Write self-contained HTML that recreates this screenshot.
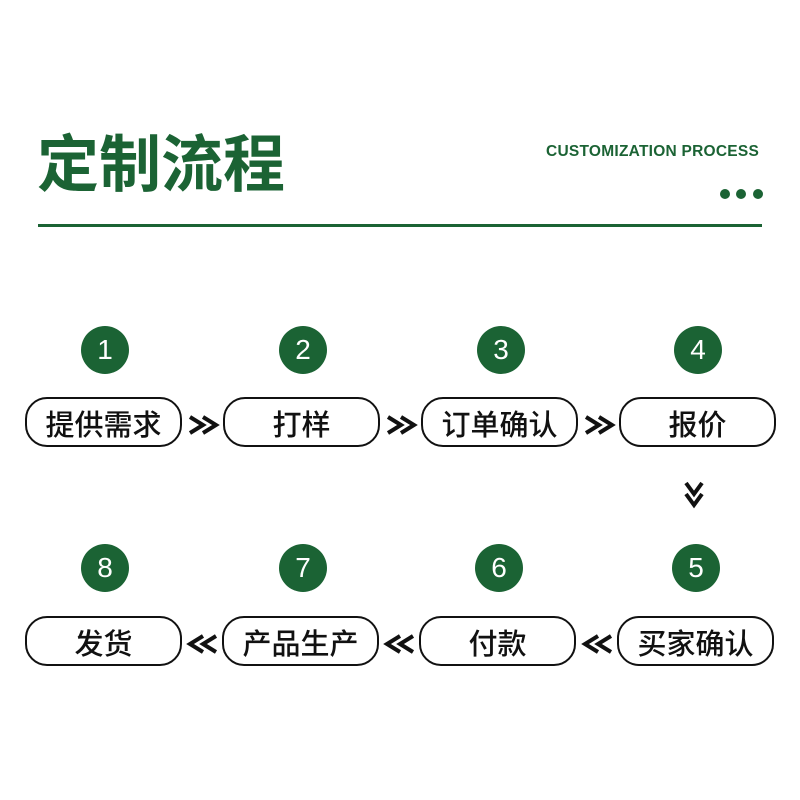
<!DOCTYPE html>
<html><head><meta charset="utf-8"><style>
body{margin:0;width:800px;height:800px;background:#fff;position:relative;overflow:hidden;font-family:"Liberation Sans","Noto Sans CJK SC",sans-serif}
.a{position:absolute}
.t{left:37px;top:126px;font-size:62px;font-weight:bold;color:#1b6334;line-height:80px}
.en{left:546px;top:143px;font-size:15.5px;font-weight:bold;color:#1b6334;letter-spacing:0.25px}
.dot{width:10px;height:10px;border-radius:50%;background:#1b6334;top:189px}
.line{left:38px;top:224px;width:724px;height:3px;background:#1b6334}
.c{width:48px;height:48px;border-radius:50%;background:#1b6334;color:#fff;font-size:28px;text-align:center;line-height:48px}
.b{width:153px;height:46px;border:2px solid #111;border-radius:22px;text-align:center;font-size:29px;line-height:54px;color:#111;font-weight:500}
</style></head><body>
<div class="a t">定制流程</div>
<div class="a en">CUSTOMIZATION PROCESS</div>
<div class="a dot" style="left:720px"></div><div class="a dot" style="left:736px"></div><div class="a dot" style="left:753px"></div>
<div class="a line"></div>

<div class="a c" style="left:81px;top:326px">1</div>
<div class="a c" style="left:279px;top:326px">2</div>
<div class="a c" style="left:477px;top:326px">3</div>
<div class="a c" style="left:674px;top:326px">4</div>
<div class="a c" style="left:81px;top:544px">8</div>
<div class="a c" style="left:279px;top:544px">7</div>
<div class="a c" style="left:475px;top:544px">6</div>
<div class="a c" style="left:672px;top:544px">5</div>

<div class="a b" style="left:25px;top:397px">提供需求</div>
<div class="a b" style="left:223px;top:397px">打样</div>
<div class="a b" style="left:421px;top:397px">订单确认</div>
<div class="a b" style="left:619px;top:397px">报价</div>
<div class="a b" style="left:25px;top:616px">发货</div>
<div class="a b" style="left:222px;top:616px">产品生产</div>
<div class="a b" style="left:419px;top:616px">付款</div>
<div class="a b" style="left:617px;top:616px">买家确认</div>

<svg class="a" style="left:0;top:0" width="800" height="800" fill="none" stroke="#111" stroke-width="4">
<g id="r"><path d="M190 417l13 8-13 8M203 417l13 8-13 8"/></g>
<use href="#r" x="198"/><use href="#r" x="396"/>
<path d="M686 483l8 11 8-11M686 494l8 11 8-11"/>
<g id="l"><path d="M203 636l-13 8 13 8M216 636l-13 8 13 8"/></g>
<use href="#l" x="197"/><use href="#l" x="395"/>
</svg>
</body></html>
